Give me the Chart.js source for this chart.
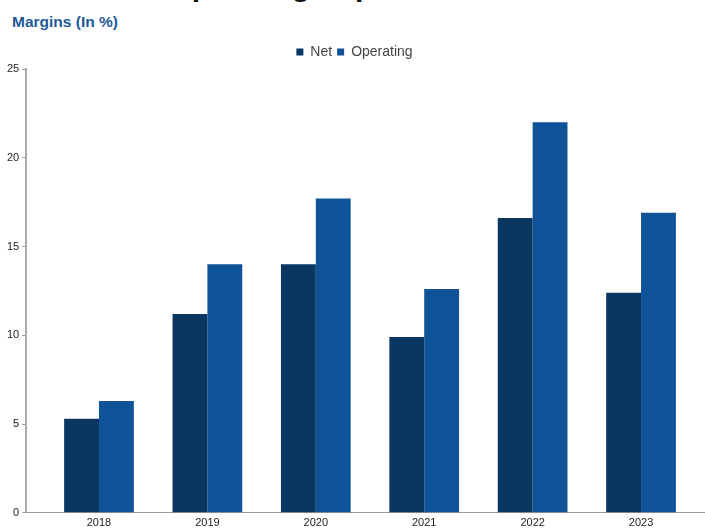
<!DOCTYPE html>
<html>
<head>
<meta charset="utf-8">
<script src="https://cdn.jsdelivr.net/npm/chart.js@4.4.0/dist/chart.umd.min.js"></script>
<style>
  body { margin: 0; background: #fff; width: 705px; height: 529px; overflow: hidden; position: relative; font-family: "Liberation Sans", Arial, sans-serif; }
  #titre { position: absolute; left: 50px; top: -29px; font-size: 30px; line-height: 30px; font-weight: bold; color: #111; white-space: nowrap; }
  #sousTitre { position: absolute; left: 12px; top: 13px; font-size: 15.5px; font-weight: bold; color: #1d5a97; }
  #zone { position: absolute; left: 0; top: 40px; width: 705px; height: 494px; }
</style>
</head>
<body>
<div id="titre">Net and Operating Expenses</div>
<div id="sousTitre">Margins (In %)</div>
<div id="zone"><canvas id="graficoMargenes"></canvas></div>
<script>
// datos
var annees = ['2018', '2019', '2020', '2021', '2022', '2023'];
var margenNeto = [5.3, 11.2, 14.0, 9.9, 16.6, 12.4];
var margenOperativo = [6.3, 14.0, 17.7, 12.6, 22.0, 16.9];
var ticksY = [0, 5, 10, 15, 20, 25];

function puntos(valores){
    var lista = [];
    valores.forEach(function(v, i){
        lista.push({x: i, y: v});
    });
    return lista;
}

function setGrafico(){
    var ctx = document.getElementById('graficoMargenes').getContext('2d');
    new Chart(ctx, {
        type: 'bar',
        data: {
            datasets: [{
                label: 'Net',
                data: puntos(margenNeto),
                backgroundColor: '#0a3662',
                categoryPercentage: 0.643,
                barPercentage: 1.0
            }, {
                label: 'Operating',
                data: puntos(margenOperativo),
                backgroundColor: '#0e5297',
                categoryPercentage: 0.643,
                barPercentage: 1.0
            }]
        },
        options: {
            responsive: true,
            maintainAspectRatio: false,
            animation: false,
            layout: { padding: { left: 4, right: 0, top: 0, bottom: 0 } },
            plugins: {
                legend: {
                    position: 'top',
                    labels: {
                        boxWidth: 7,
                        boxHeight: 7,
                        padding: 5,
                        color: '#444',
                        font: { family: 'Liberation Sans', size: 14, lineHeight: 1 }
                    }
                },
                tooltip: { enabled: false }
            },
            scales: {
                x: {
                    type: 'linear',
                    offset: false,
                    min: -0.671,
                    max: 5.59,
                    grid: { display: false, drawTicks: false },
                    border: { display: true, color: '#999', width: 1 },
                    afterBuildTicks: function(axis){
                        axis.ticks = annees.map(function(a, i){ return {value: i}; });
                    },
                    ticks: {
                        padding: 4,
                        color: '#222',
                        font: { family: 'Liberation Sans', size: 11 },
                        callback: function(value){ return annees[value]; }
                    }
                },
                y: {
                    min: 0,
                    max: 25,
                    afterBuildTicks: function(axis){
                        axis.ticks = ticksY.map(function(t){ return {value: t}; });
                    },
                    grid: { drawOnChartArea: false, tickLength: 4, color: '#999' },
                    border: { display: true, color: '#aaa', width: 2 },
                    ticks: {
                        padding: 3,
                        color: '#222',
                        font: { family: 'Liberation Sans', size: 11 }
                    }
                }
            }
        }
    });
}

setGrafico();
</script>
</body>
</html>
